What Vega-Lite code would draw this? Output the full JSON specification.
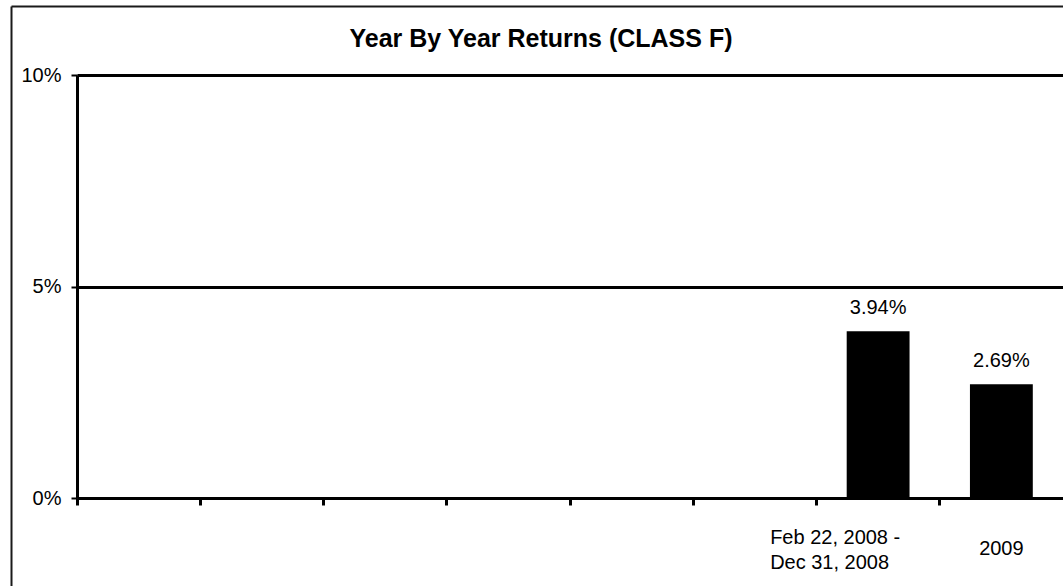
{
  "$schema": "https://vega.github.io/schema/vega-lite/v6.json",
  "width": 986,
  "height": 423,
  "autosize": {"type": "none"},
  "padding": {"left": 77, "top": 75, "right": 0, "bottom": 88},
  "background": "white",
  "title": {
    "text": "Year By Year Returns (CLASS F)",
    "font": "Liberation Sans",
    "fontSize": 25,
    "fontWeight": "bold",
    "color": "black",
    "anchor": "middle",
    "frame": "group",
    "baseline": "alphabetic",
    "offset": -66,
    "dx": -29
  },
  "resolve": {
    "scale": {"x": "independent", "y": "independent"},
    "axis": {"x": "independent", "y": "independent"}
  },
  "layer": [
    {
      "data": {
        "values": [
          {"period": "Feb 22, 2008 -|Dec 31, 2008", "ret": 0.0394},
          {"period": "2009", "ret": 0.0269}
        ]
      },
      "encoding": {
        "x": {
          "field": "period",
          "type": "nominal",
          "sort": null,
          "scale": {
            "domain": [" ", "  ", "   ", "    ", "     ", "      ", "Feb 22, 2008 -|Dec 31, 2008", "2009"],
            "paddingInner": 0,
            "paddingOuter": 0
          },
          "axis": {
            "title": null,
            "orient": "bottom",
            "grid": false,
            "bandPosition": 0,
            "domainColor": "black",
            "domainWidth": 3,
            "tickColor": "black",
            "tickWidth": 3,
            "tickSize": 7,
            "labelFont": "Liberation Sans",
            "labelFontSize": 20,
            "labelColor": "black",
            "labelAngle": 0,
            "labelOverlap": false,
            "labelLineHeight": 25,
            "labelAlign": {"condition": {"test": "indexof(datum.value, 'Feb') === 0", "value": "left"}, "value": "center"},
            "labelOffset": {"condition": {"test": "indexof(datum.value, 'Feb') === 0", "value": -108}, "value": 0},
            "labelPadding": {"condition": {"test": "indexof(datum.value, 'Feb') === 0", "value": 22}, "value": 33},
            "labelExpr": "split(datum.value, '|')"
          }
        },
        "y": {
          "field": "ret",
          "type": "quantitative",
          "scale": {"domain": [0, 0.1], "nice": false, "zero": true},
          "axis": {
            "title": null,
            "orient": "left",
            "values": [0, 0.05, 0.1],
            "format": ".0%",
            "grid": true,
            "gridColor": "black",
            "gridWidth": 3,
            "gridOpacity": 1,
            "domainColor": "black",
            "domainWidth": 3,
            "tickColor": "black",
            "tickWidth": 2,
            "tickSize": 6,
            "labelFont": "Liberation Sans",
            "labelFontSize": 20,
            "labelColor": "black",
            "labelPadding": 10
          }
        }
      },
      "layer": [
        {"mark": {"type": "bar", "color": "black", "width": {"band": 0.51}}},
        {
          "mark": {"type": "text", "dy": -17, "baseline": "alphabetic", "fontSize": 20, "font": "Liberation Sans", "color": "black"},
          "encoding": {"text": {"field": "ret", "type": "quantitative", "format": ".2%"}}
        }
      ]
    },
    {
      "data": {"values": [{"frame": 0}]},
      "mark": {"type": "point", "opacity": 0},
      "encoding": {
        "x": {
          "datum": 0,
          "type": "quantitative",
          "scale": {"domain": [0, 1], "range": [-66, 986], "nice": false, "zero": false},
          "axis": {"title": null, "orient": "top", "offset": 69, "grid": false, "ticks": false, "labels": false, "domain": true, "domainColor": "#1a1a1a", "domainWidth": 2}
        },
        "y": {
          "datum": 0,
          "type": "quantitative",
          "scale": {"domain": [0, 1], "range": [511, -69], "nice": false, "zero": false},
          "axis": {"title": null, "orient": "left", "offset": 66, "grid": false, "ticks": false, "labels": false, "domain": true, "domainColor": "#1a1a1a", "domainWidth": 2}
        }
      }
    }
  ],
  "config": {
    "view": {"stroke": null},
    "font": "Liberation Sans"
  }
}
